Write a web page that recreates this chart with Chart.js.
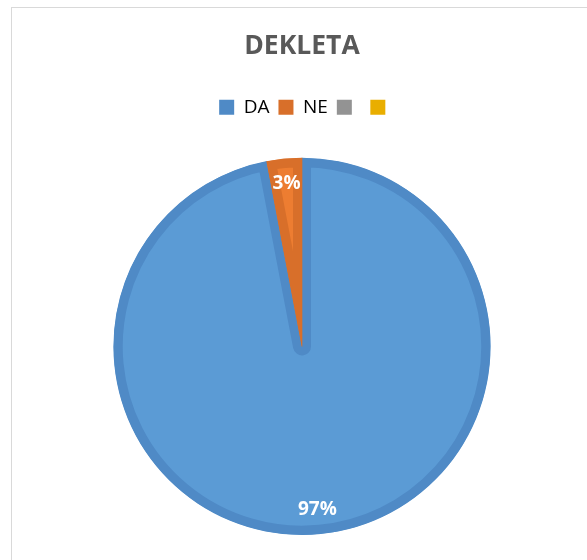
<!DOCTYPE html>
<html>
<head>
<meta charset="utf-8">
<script src="https://cdn.jsdelivr.net/npm/chart.js@4/dist/chart.umd.min.js"></script>
<style>
  html, body { margin: 0; padding: 0; background: #fff; }
  #wrap { position: relative; width: 587px; height: 560px; overflow: hidden; }
  #frame { position: absolute; left: 11px; top: 7px; width: 620px; height: 620px; border: 1.5px solid #d9d9d9; }
  #c { position: absolute; left: 0; top: 0; }
</style>
</head>
<body>
<div id="wrap">
  <div id="frame"></div>
  <canvas id="c" width="587" height="560"></canvas>
</div>
<script>
// podaci
const kategorije = ['DA', 'NE', '', ''];
const vrijednosti = [97, 3, 0, 0];
const boje = ['#5B9BD5', '#ED7D31', '#A5A5A5', '#FFC000'];
const rubovi = ['#4F8AC6', '#D86F2A', '#939393', '#E9AE00'];

// postotci na kriskama
const oznake = {
    id: 'oznake',
    afterDatasetsDraw(chart) {
        const ctx = chart.ctx;
        const meta = chart.getDatasetMeta(0);
        const ukupno = vrijednosti.reduce((a, b) => a + b, 0);
        ctx.save();
        ctx.fillStyle = '#ffffff';
        ctx.font = 'bold 19px "Open Sans"';
        ctx.textAlign = 'center';
        ctx.textBaseline = 'middle';
        meta.data.forEach((arc, i) => {
            if (!vrijednosti[i]) return;
            const kut = (arc.startAngle + arc.endAngle) / 2;
            const r = arc.outerRadius - 25;
            const x = arc.x + Math.cos(kut) * r;
            const y = arc.y + Math.sin(kut) * r;
            ctx.fillText(Math.round(vrijednosti[i] / ukupno * 100) + '%', x, y);
        });
        ctx.restore();
    }
};

// vise mjesta ispod legende, legenda malo udesno
const razmak = {
    id: 'razmak',
    beforeInit(chart) {
        const fit = chart.legend.fit;
        chart.legend.fit = function () {
            fit.call(this);
            this.height += 31;
        };
    },
    afterLayout(chart) {
        chart.legend.left += 5;
        chart.legend.right += 5;
    }
};

new Chart(document.getElementById('c'), {
    type: 'pie',
    data: {
        labels: kategorije,
        datasets: [{
            data: vrijednosti,
            backgroundColor: boje,
            borderColor: rubovi,
            borderWidth: 9,
            borderAlign: 'inner'
        }]
    },
    options: {
        responsive: false,
        animation: false,
        layout: { padding: { left: 17, right: 0, top: 0, bottom: 25 } },
        plugins: {
            title: {
                display: true,
                text: 'DEKLETA',
                color: '#595959',
                font: { family: 'Open Sans', size: 26.5, weight: 'bold' },
                padding: { top: 31, bottom: 26 }
            },
            legend: {
                display: true,
                position: 'top',
                labels: {
                    color: '#595959',
                    font: { family: 'Open Sans', size: 19 },
                    boxWidth: 15,
                    boxHeight: 15,
                    padding: 9,
                    generateLabels(chart) {
                        return kategorije.map((k, i) => ({
                            text: k,
                            fillStyle: rubovi[i],
                            strokeStyle: rubovi[i],
                            lineWidth: 0,
                            hidden: false,
                            index: i
                        }));
                    }
                }
            },
            tooltip: { enabled: false }
        }
    },
    plugins: [oznake, razmak]
});
</script>
</body>
</html>
